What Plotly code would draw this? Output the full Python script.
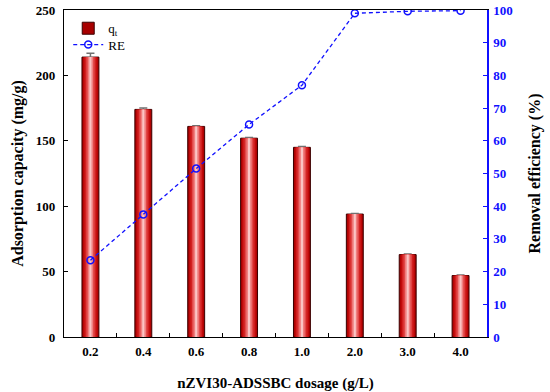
import plotly.graph_objects as go

dosage = ["0.2", "0.4", "0.6", "0.8", "1.0", "2.0", "3.0", "4.0"]
qt = [214, 174, 161, 152, 145, 94, 63, 47]
qt_err = [3, 1, 0.6, 0.6, 0.6, 0.4, 0.4, 0.4]
re = [23.5, 37.5, 51.5, 65, 77, 99, 99.6, 99.8]

x = list(range(len(dosage)))
FONT = "Liberation Serif"

fig = go.Figure()

# gradient-like bars: overlaid layers from dark edge to light center
layers = [
    (0.32, "#a80000"),
    (0.27, "#bf0a0a"),
    (0.22, "#d22020"),
    (0.16, "#e24848"),
    (0.10, "#f08080"),
    (0.04, "#fbc4c4"),
]
for i, (w, c) in enumerate(layers):
    fig.add_trace(go.Bar(
        x=x, y=qt, width=w, marker_color=c,
        marker_line=dict(color="#3a0000" if i == 0 else c, width=1 if i == 0 else 0),
        error_y=dict(type="data", array=qt_err, color="#707070", thickness=1.5, width=4) if i == 0 else None,
        name="q<sub>t</sub>", showlegend=(i == 0), legend="legend",
    ))

fig.add_trace(go.Scatter(
    x=x, y=re, yaxis="y2", mode="lines+markers", name="RE",
    line=dict(color="#1010ff", width=1.3, dash="4px,3px"),
    marker=dict(symbol="circle-open", size=7, color="#1010ff", line=dict(width=1.5)),
    legend="legend2",
))

legend_common = dict(xanchor="left", yanchor="top", bgcolor="rgba(0,0,0,0)",
                     font=dict(family=FONT, size=13), itemwidth=30)

fig.update_layout(
    width=550, height=392,
    margin=dict(l=64, r=63, t=10, b=55),
    barmode="overlay",
    hovermode=False,
    plot_bgcolor="white", paper_bgcolor="white",
    font=dict(family=FONT, color="black"),
    showlegend=True,
    legend=dict(x=0.01, y=0.99, **legend_common),
    legend2=dict(x=0.01, y=0.94, **legend_common),
    xaxis=dict(
        range=[-0.5, 7.5], tickvals=x, ticktext=dosage, ticks="", ticklen=0,
        automargin=False, ticklabelstandoff=2,
        showline=True, linecolor="black", linewidth=1.2, mirror=True,
        tickfont=dict(family=FONT, size=13, color="black", weight="bold"),
        title=dict(text="nZVI30-ADSSBC dosage (g/L)", standoff=19,
                   font=dict(family=FONT, size=15, color="black", weight="bold")),
        minor=dict(tickvals=[i + 0.5 for i in x[:-1]], ticks="inside", ticklen=4,
                   tickcolor="black", tickwidth=1),
        showgrid=False, zeroline=False,
    ),
    yaxis=dict(
        range=[0, 250], dtick=50, ticks="inside", ticklen=4, tickcolor="black",
        automargin=False, ticklabelstandoff=5,
        showline=True, linecolor="black", linewidth=1.2,
        tickfont=dict(family=FONT, size=13, color="black", weight="bold"),
        title=dict(text="Adsorption capacity (mg/g)", standoff=8,
                   font=dict(family=FONT, size=16, color="black", weight="bold")),
        showgrid=False, zeroline=False,
    ),
    yaxis2=dict(
        overlaying="y", side="right", range=[0, 100], dtick=10,
        automargin=False, ticklabelstandoff=2,
        ticks="inside", ticklen=4, tickcolor="#1010ff",
        showline=True, linecolor="#1010ff", linewidth=1.5,
        tickfont=dict(family=FONT, size=13, color="#1010ff", weight="bold"),
        title=dict(text="Removal efficiency (%)", standoff=17,
                   font=dict(family=FONT, size=16, color="black", weight="bold")),
        showgrid=False, zeroline=False,
    ),
)

fig.write_html("out.html", config={"displayModeBar": False},
               post_script="document.body.style.margin='0';")
